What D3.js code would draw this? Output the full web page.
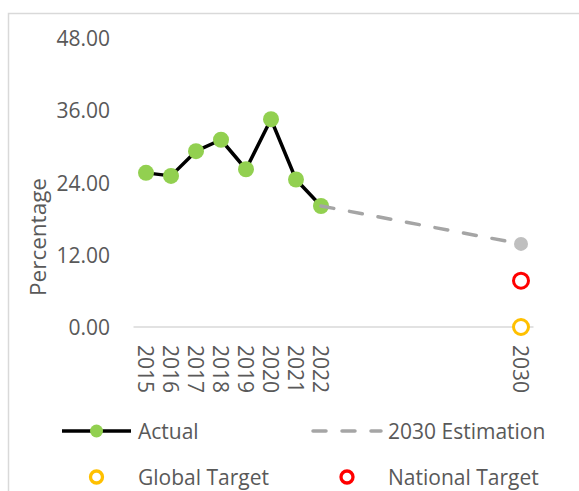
<!DOCTYPE html>
<html>
<head>
<meta charset="utf-8">
<script src="https://cdn.jsdelivr.net/npm/d3@7"></script>
<style>
  body { margin: 0; background: #fff; }
  svg text { font-family: "Open Sans", sans-serif; fill: #595959; }
</style>
</head>
<body>
<svg id="chart" width="579" height="491"></svg>
<script>
var years = ["2015","2016","2017","2018","2019","2020","2021","2022","2023","2024","2025","2026","2027","2028","2029","2030"];
var yearLabels = ["2015","2016","2017","2018","2019","2020","2021","2022","","","","","","","","2030"];
var actualYears = ["2015","2016","2017","2018","2019","2020","2021","2022"];
var actualValues = [25.6, 25.1, 29.2, 31.1, 26.2, 34.5, 24.5, 20.1];
var estimationYears = ["2022","2030"];
var estimationValues = [20.1, 13.8];
var globalTarget = 0;
var nationalTarget = 7.7;
var yTicks = [0, 12, 24, 36, 48];

var svg = d3.select("#chart");

// chart area border
svg.append("rect")
  .attr("x", 8.5).attr("y", 13.5)
  .attr("width", 700).attr("height", 600)
  .attr("fill", "none")
  .attr("stroke", "#d9d9d9")
  .attr("stroke-width", 1.5);

var x = d3.scaleBand().domain(years).range([133.5, 533.5]).padding(0);
var y = d3.scaleLinear().domain([0, 48]).range([327, 38]);
function cx(yr) { return x(yr) + x.bandwidth() / 2; }

// y tick labels
svg.append("g").selectAll("text")
  .data(yTicks)
  .enter().append("text")
    .attr("x", 110)
    .attr("y", function(d) { return y(d); })
    .attr("text-anchor", "end")
    .attr("dominant-baseline", "central")
    .style("font-size", "21px")
    .text(function(d) { return d3.format(".2f")(d); });

// axis title
svg.append("text")
  .attr("transform", "translate(37,237) rotate(-90)")
  .attr("text-anchor", "middle")
  .attr("dominant-baseline", "central")
  .style("font-size", "22.5px")
  .text("Percentage");

// category axis line
svg.append("line")
  .attr("x1", x.range()[0]).attr("x2", x.range()[1])
  .attr("y1", y(0)).attr("y2", y(0))
  .attr("stroke", "#d9d9d9")
  .attr("stroke-width", 1.5);

// x labels, rotated
svg.append("g").selectAll("text")
  .data(years.map(function(d, i) { return {year: d, label: yearLabels[i]}; }))
  .enter().append("text")
    .attr("transform", function(d) { return "translate(" + cx(d.year) + ",345) rotate(90)"; })
    .attr("text-anchor", "start")
    .attr("dominant-baseline", "central")
    .style("font-size", "21px")
    .text(function(d) { return d.label; });

// actual line
var actual = actualYears.map(function(d, i) { return {year: d, v: actualValues[i]}; });
var line = d3.line().x(function(d) { return cx(d.year); }).y(function(d) { return y(d.v); });

svg.append("path")
  .datum(actual)
  .attr("d", line)
  .attr("fill", "none")
  .attr("stroke", "#000")
  .attr("stroke-width", 3.5)
  .attr("stroke-linejoin", "round");

svg.append("g").selectAll("circle")
  .data(actual)
  .enter().append("circle")
    .attr("cx", function(d) { return cx(d.year); })
    .attr("cy", function(d) { return y(d.v); })
    .attr("r", 8)
    .attr("fill", "#92d050");

// estimation
var est = estimationYears.map(function(d, i) { return {year: d, v: estimationValues[i]}; });
svg.append("path")
  .datum(est)
  .attr("d", line)
  .attr("fill", "none")
  .attr("stroke", "#a5a5a5")
  .attr("stroke-width", 3.5)
  .attr("stroke-linecap", "round")
  .attr("stroke-dasharray", "13,16");

svg.append("circle")
  .attr("cx", cx("2030"))
  .attr("cy", y(estimationValues[1]))
  .attr("r", 7)
  .attr("fill", "#bfbfbf");

// targets
svg.append("circle")
  .attr("cx", cx("2030")).attr("cy", y(nationalTarget))
  .attr("r", 7.5)
  .attr("fill", "#fff").attr("stroke", "#ff0000").attr("stroke-width", 3);

svg.append("circle")
  .attr("cx", cx("2030")).attr("cy", y(globalTarget))
  .attr("r", 7.5)
  .attr("fill", "#fff").attr("stroke", "#ffc000").attr("stroke-width", 3);

// legend
var lg = svg.append("g").style("font-size", "21px");

lg.append("line").attr("x1", 62).attr("x2", 131).attr("y1", 431).attr("y2", 431)
  .attr("stroke", "#000").attr("stroke-width", 3.5);
lg.append("circle").attr("cx", 96.5).attr("cy", 431).attr("r", 6.5).attr("fill", "#92d050");
lg.append("text").attr("x", 138).attr("y", 431).attr("dominant-baseline", "central").text("Actual");

lg.append("line").attr("x1", 313).attr("x2", 381).attr("y1", 431).attr("y2", 431)
  .attr("stroke", "#a5a5a5").attr("stroke-width", 3.5)
  .attr("stroke-linecap", "round").attr("stroke-dasharray", "13,16");
lg.append("text").attr("x", 388).attr("y", 431).attr("dominant-baseline", "central").text("2030 Estimation");

lg.append("circle").attr("cx", 96.5).attr("cy", 477).attr("r", 6)
  .attr("fill", "#fff").attr("stroke", "#ffc000").attr("stroke-width", 3.3);
lg.append("text").attr("x", 138).attr("y", 477).attr("dominant-baseline", "central").text("Global Target");

lg.append("circle").attr("cx", 347).attr("cy", 477).attr("r", 6)
  .attr("fill", "#fff").attr("stroke", "#ff0000").attr("stroke-width", 3.3);
lg.append("text").attr("x", 388).attr("y", 477).attr("dominant-baseline", "central").text("National Target");
</script>
</body>
</html>
